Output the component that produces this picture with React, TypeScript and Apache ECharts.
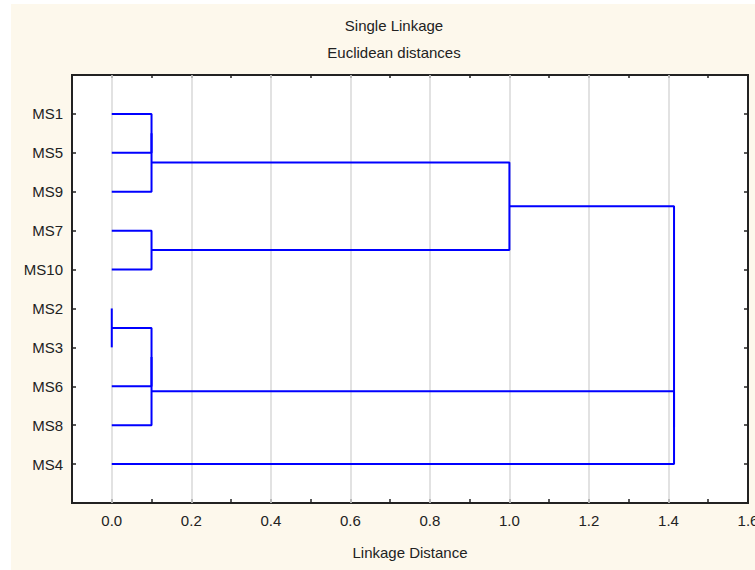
import React, { useEffect, useRef } from "react";
import * as echarts from "echarts";

// Leaves in dendrogram order (top to bottom)
const leaves = ["MS1", "MS5", "MS9", "MS7", "MS10", "MS2", "MS3", "MS6", "MS8", "MS4"];
// Merge steps: [clusterA, clusterB, linkage distance]; clusters 0..9 are leaves, 10+ are earlier merges
const merges: [number, number, number][] = [
  [0, 1, 0.1],    // 10: MS1+MS5
  [10, 2, 0.1],   // 11: +MS9
  [3, 4, 0.1],    // 12: MS7+MS10
  [11, 12, 1.0],  // 13
  [5, 6, 0.0],    // 14: MS2+MS3
  [14, 7, 0.1],   // 15: +MS6
  [15, 8, 0.1],   // 16: +MS8
  [16, 9, 1.414], // 17: +MS4
  [13, 17, 1.414] // 18: root
];
const gridTicks = [0, 0.2, 0.4, 0.6, 0.8, 1.0, 1.2, 1.4];

const FONT = "Liberation Sans, Arial, sans-serif";

function buildSegments() {
  const nodes: { x: number; y: number }[] = leaves.map((_, i) => ({ x: 0, y: i + 1 }));
  const segs: number[][][] = [];
  merges.forEach(([a, b, d]) => {
    const A = nodes[a];
    const B = nodes[b];
    segs.push([
      [A.x, A.y],
      [d, A.y],
      [d, B.y],
      [B.x, B.y],
    ]);
    nodes.push({ x: d, y: (A.y + B.y) / 2 });
  });
  return segs;
}

export default function App() {
  const ref = useRef<HTMLDivElement>(null);
  useEffect(() => {
    if (!ref.current) return;
    const chart = echarts.init(ref.current, null, { renderer: "svg" });
    const segs = buildSegments();
    const xAxisBase = {
      type: "value",
      min: -0.1,
      max: 1.6,
      interval: 0.1,
      axisLine: { show: false, onZero: false },
      splitLine: { show: false },
    };
    const yAxisBase = {
      type: "value",
      min: 0,
      max: 11,
      interval: 1,
      inverse: true,
      axisLine: { show: false, onZero: false },
      splitLine: { show: false },
    };
    chart.setOption({
      animation: false,
      backgroundColor: "#ffffff",
      graphic: [
        {
          type: "rect",
          z: -10,
          silent: true,
          shape: { x: 11, y: 4, width: 760, height: 580 },
          style: { fill: "#fdf8ec" },
        },
      ],
      title: [
        {
          text: "Single Linkage",
          left: 389,
          top: 13,
          textAlign: "center",
          textStyle: { fontFamily: FONT, fontSize: 15, fontWeight: "normal", color: "#222" },
        },
        {
          text: "Euclidean distances",
          left: 389,
          top: 40,
          textAlign: "center",
          textStyle: { fontFamily: FONT, fontSize: 15, fontWeight: "normal", color: "#222" },
        },
      ],
      grid: {
        left: 72,
        right: 7,
        top: 75,
        bottom: 67,
        show: true,
        containLabel: false,
        outerBoundsMode: "none",
        backgroundColor: "#ffffff",
        borderColor: "#222",
        borderWidth: 2,
      },
      xAxis: [
        {
          ...xAxisBase,
          position: "bottom",
          name: "Linkage Distance",
          nameLocation: "middle",
          nameGap: 42,
          nameTextStyle: { fontFamily: FONT, fontSize: 15, color: "#222" },
          axisTick: { show: true, inside: true, length: 4, lineStyle: { color: "#222", width: 1.5 } },
          axisLabel: {
            show: true,
            margin: 10,
            fontFamily: FONT,
            fontSize: 15,
            color: "#222",
            showMinLabel: true,
            showMaxLabel: true,
            hideOverlap: false,
            formatter: (v: number) => {
              const k = Math.round(v * 10);
              return k >= 0 && k % 2 === 0 ? (k / 10).toFixed(1) : "";
            },
          },
        },
        {
          ...xAxisBase,
          position: "top",
          axisTick: { show: true, inside: true, length: 3, lineStyle: { color: "#222", width: 1.5 } },
          axisLabel: { show: false },
        },
      ],
      yAxis: [
        {
          ...yAxisBase,
          position: "left",
          axisTick: { show: true, inside: true, length: 4, lineStyle: { color: "#222", width: 1.5 } },
          axisLabel: {
            show: true,
            margin: 9,
            fontFamily: FONT,
            fontSize: 15,
            color: "#222",
            formatter: (v: number) => (v >= 1 && v <= leaves.length ? leaves[Math.round(v) - 1] : ""),
          },
        },
        {
          ...yAxisBase,
          position: "right",
          axisTick: { show: true, inside: true, length: 4, lineStyle: { color: "#222", width: 1.5 } },
          axisLabel: { show: false },
        },
      ],
      series: [
        {
          type: "line",
          data: [],
          z: 1,
          silent: true,
          markLine: {
            z: 1,
            silent: true,
            symbol: "none",
            label: { show: false },
            lineStyle: { color: "#d8d8d8", width: 1.5, type: "solid" },
            data: gridTicks.map((v) => ({ xAxis: v })),
          },
        },
        ...segs.map((s) => ({
          type: "line",
          data: s,
          z: 10,
          silent: true,
          showSymbol: false,
          symbol: "none",
          lineStyle: { color: "#0000ff", width: 2 },
        })),
      ],
    });
    return () => chart.dispose();
  }, []);
  return (
    <div
      ref={ref}
      style={{ position: "fixed", left: 0, top: 0, width: 755, height: 570 }}
    />
  );
}
